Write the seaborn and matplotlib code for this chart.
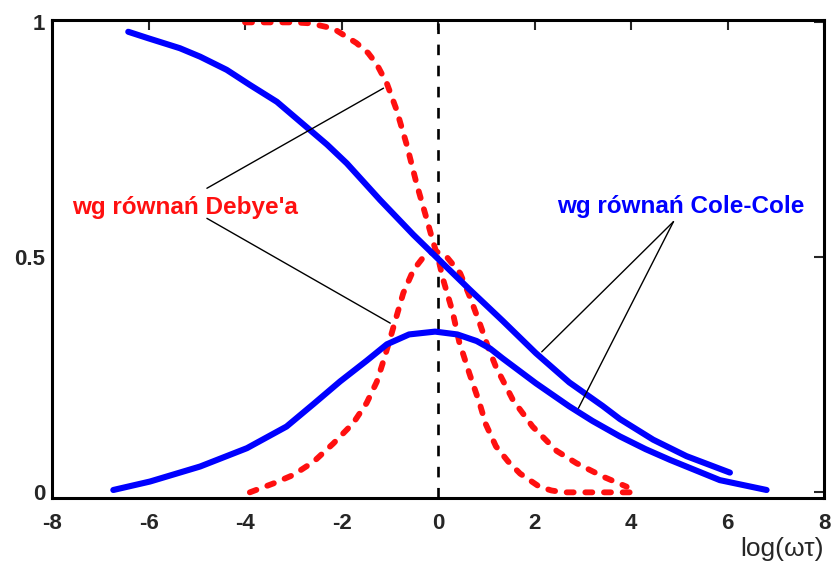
import numpy as np
import pandas as pd
import matplotlib
matplotlib.use('Agg')
import matplotlib.pyplot as plt
import seaborn as sns

# values, x = log(wt)
debye_re_x = [-4.0, -3.0, -2.65, -2.17, -1.69, -1.45, -1.27, -1.06, -0.86, -0.65, -0.44, -0.23,
              -0.10, 0.0, 0.10, 0.30, 0.44, 0.65, 0.86, 0.99, 1.20, 1.45, 1.70, 2.10, 2.35,
              2.60, 4.0]
debye_re_y = [1.0, 1.0, 0.998, 0.987, 0.956, 0.935, 0.911, 0.870, 0.814, 0.740, 0.655, 0.580,
              0.532, 0.500, 0.455, 0.385, 0.320, 0.253, 0.190, 0.145, 0.098, 0.066, 0.040, 0.012,
              0.004, 0.0, 0.0]

debye_im_x = [-3.9, -3.41, -3.0, -2.58, -2.17, -1.76, -1.48, -1.27, -1.13, -0.99, -0.85, -0.72,
              -0.51, -0.30, -0.06, 0.18, 0.46, 0.66, 0.87, 1.04, 1.20, 1.55, 1.96, 2.46, 2.87,
              3.43, 3.91]
debye_im_y = [0.0, 0.019, 0.037, 0.065, 0.104, 0.147, 0.190, 0.235, 0.280, 0.328, 0.378, 0.424,
              0.473, 0.501, 0.514, 0.501, 0.466, 0.416, 0.358, 0.308, 0.267, 0.197, 0.140, 0.088,
              0.062, 0.033, 0.012]

cole_re_x = [-6.42, -6.0, -5.35, -4.93, -4.38, -3.9, -3.34, -2.86, -2.3, -1.89, -1.2, -0.51,
             0.0, 0.65, 1.34, 2.03, 2.72, 3.41, 3.77, 4.46, 5.15, 6.05]
cole_re_y = [0.980, 0.966, 0.945, 0.927, 0.899, 0.867, 0.831, 0.789, 0.740, 0.700, 0.622, 0.548,
             0.497, 0.432, 0.365, 0.296, 0.234, 0.184, 0.156, 0.112, 0.077, 0.042]

cole_im_x = [-6.73, -5.97, -4.93, -3.96, -3.14, -2.58, -2.03, -1.48, -1.06, -0.6, -0.06, 0.4,
             0.8, 1.08, 1.34, 2.03, 2.72, 3.2, 3.77, 4.3, 4.81, 5.84, 6.81]
cole_im_y = [0.005, 0.023, 0.055, 0.094, 0.140, 0.188, 0.236, 0.280, 0.315, 0.336, 0.342, 0.336,
             0.322, 0.306, 0.285, 0.232, 0.183, 0.152, 0.119, 0.092, 0.069, 0.026, 0.005]

x_ticks = [-8, -6, -4, -2, 0, 2, 4, 6, 8]
y_ticks = [0, 0.5, 1]
y_tick_labels = ['0', '0.5', '1']

sns.set_theme(style='white')
plt.rcParams['font.family'] = ['Liberation Sans', 'DejaVu Sans']

fig = plt.figure(figsize=(8.31, 5.72), dpi=100)
ax = fig.add_axes([0.0626, 0.1294, 0.929, 0.8356])

red = '#ff1010'
blue = '#0000ff'

# Debye curves (dashed red)
sns.lineplot(x=debye_re_x, y=debye_re_y, ax=ax, color=red, lw=4.2, sort=False, estimator=None)
sns.lineplot(x=debye_im_x, y=debye_im_y, ax=ax, color=red, lw=4.2, sort=False, estimator=None)
for ln in ax.lines[:2]:
    ln.set_dashes((1.2, 2.0))
    ln.set_dash_capstyle('round')

# Cole-Cole curves (solid blue)
sns.lineplot(x=cole_re_x, y=cole_re_y, ax=ax, color=blue, lw=4.4, sort=False, estimator=None)
sns.lineplot(x=cole_im_x, y=cole_im_y, ax=ax, color=blue, lw=4.4, sort=False, estimator=None)
for ln in ax.lines[2:4]:
    ln.set_solid_joinstyle('round')

ax.axvline(0, color='black', lw=1.9, dashes=(4, 4), zorder=1)

ax.set_xlim(-8, 8)
ax.set_ylim(-0.012, 1.005)
ax.set_xticks(x_ticks)
ax.set_xticklabels([str(t) for t in x_ticks])
ax.set_yticks(y_ticks)
ax.set_yticklabels(y_tick_labels)
ax.tick_params(direction='in', length=7, width=1.5, top=True, right=True, labelsize=16)
ax.tick_params(axis='x', pad=11)
ax.tick_params(axis='y', pad=5)
for lab in ax.get_xticklabels() + ax.get_yticklabels():
    lab.set_fontweight('bold')
for sp in ax.spines.values():
    sp.set_linewidth(2.2)
    sp.set_color('black')

ax.set_xlabel('log(ωτ)', loc='right', fontsize=19, labelpad=2)

# labels with leader lines
ax.text(-7.59, 0.607, "wg równań Debye'a", color=red, fontsize=17.5, fontweight='bold',
        va='center', ha='left')
ax.plot([-4.79, -1.13], [0.647, 0.860], color='black', lw=1.0)
ax.plot([-4.79, -0.99], [0.583, 0.360], color='black', lw=1.0)

ax.text(2.46, 0.609, 'wg równań Cole-Cole', color=blue, fontsize=17.5, fontweight='bold',
        va='center', ha='left')
ax.plot([4.88, 2.15], [0.576, 0.299], color='black', lw=1.0)
ax.plot([4.88, 2.91], [0.576, 0.179], color='black', lw=1.0)

fig.savefig('out.png', dpi=100)
